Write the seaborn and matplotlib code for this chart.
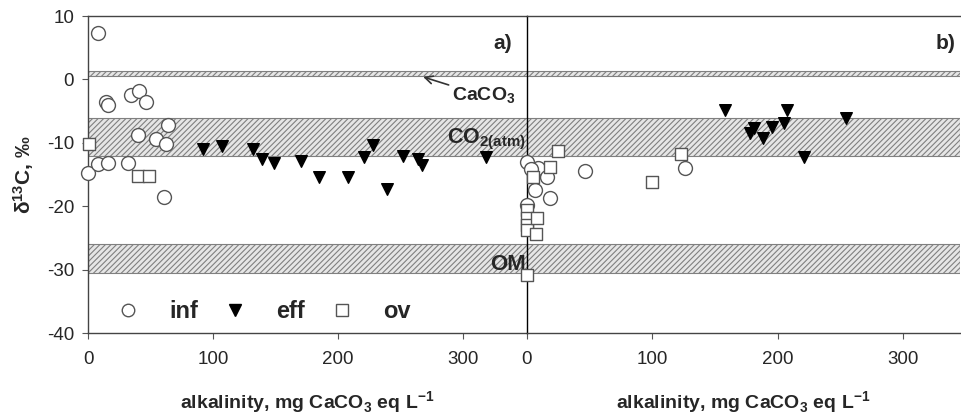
import pandas as pd
import matplotlib.pyplot as plt
import seaborn as sns
from matplotlib.lines import Line2D

# valores: panel a)
a_inf_x = [8, 14, 16, 34, 41, 46, 40, 64, 54, 62, 0, 8, 16, 32, 61]
a_inf_y = [7.3, -3.6, -4.1, -2.5, -1.8, -3.6, -8.7, -7.2, -9.4, -10.2, -14.7, -13.4, -13.1, -13.1, -18.6]
a_eff_x = [92, 107, 132, 139, 149, 170, 185, 208, 221, 228, 239, 252, 264, 267, 318]
a_eff_y = [-11.0, -10.5, -10.9, -12.5, -13.2, -12.8, -15.4, -15.4, -12.2, -10.4, -17.2, -12.0, -12.5, -13.5, -12.2]
a_ov_x = [1, 40, 49]
a_ov_y = [-10.2, -15.2, -15.2]

# panel b)
b_inf_x = [0, 9, 16, 6, 18, 46, 0, 3, 126]
b_inf_y = [-13.0, -14.0, -15.4, -17.5, -18.7, -14.5, -19.8, -14.2, -13.9]
b_eff_x = [158, 207, 254, 205, 195, 181, 178, 188, 221]
b_eff_y = [-4.8, -4.8, -6.0, -6.8, -7.5, -7.6, -8.4, -9.3, -12.2]
b_ov_x = [0, 0, 0, 0, 8, 7, 18, 5, 25, 0, 100, 123]
b_ov_y = [-20.6, -21.8, -23.0, -23.8, -21.8, -24.3, -13.8, -15.4, -11.3, -30.9, -16.2, -11.8]

# bandas de referencia (min, max)
bandas = {'CaCO3': (0.6, 1.4), 'CO2': (-12.0, -6.0), 'OM': (-30.5, -26.0)}

def armar(panel, xs, ys, tipo):
    return pd.DataFrame({'panel': panel, 'alk': xs, 'd13C': ys, 'tipo': tipo})

df = pd.concat([
    armar('a', a_inf_x, a_inf_y, 'inf'), armar('a', a_eff_x, a_eff_y, 'eff'), armar('a', a_ov_x, a_ov_y, 'ov'),
    armar('b', b_inf_x, b_inf_y, 'inf'), armar('b', b_eff_x, b_eff_y, 'eff'), armar('b', b_ov_x, b_ov_y, 'ov'),
], ignore_index=True)

sns.set_style('ticks')
plt.rcParams['font.family'] = ['Liberation Sans', 'DejaVu Sans']
plt.rcParams['mathtext.fontset'] = 'custom'
plt.rcParams['mathtext.rm'] = 'Liberation Sans'
plt.rcParams['mathtext.bf'] = 'Liberation Sans:bold'
plt.rcParams['axes.unicode_minus'] = False
plt.rcParams['hatch.color'] = '#808080'
plt.rcParams['hatch.linewidth'] = 0.8

fig = plt.figure(figsize=(9.62, 4.17), dpi=100)
ax1 = fig.add_axes([0.0915, 0.2014, 0.4563, 0.760])
ax2 = fig.add_axes([0.5478, 0.2014, 0.4500, 0.760])

estilos = {
    'inf': dict(marker='o', color='white', edgecolor='#555555', s=100),
    'eff': dict(marker='v', color='black', edgecolor='black', s=70),
    'ov': dict(marker='s', color='white', edgecolor='#555555', s=75),
}

for ax, panel, xmax in [(ax1, 'a', 351), (ax2, 'b', 345)]:
    for lo, hi in bandas.values():
        ax.axhspan(lo, hi, facecolor='#e6e6e6', edgecolor='#808080', hatch='//////', lw=0.8, zorder=0)
    for tipo in ['inf', 'eff', 'ov']:
        sub = df[(df.panel == panel) & (df.tipo == tipo)]
        sns.scatterplot(data=sub, x='alk', y='d13C', ax=ax, linewidth=1.0, clip_on=False, zorder=3, **estilos[tipo])
    ax.set_xlim(0, xmax)
    ax.set_ylim(-40, 10)
    ax.set_xticks([0, 100, 200, 300])
    ax.tick_params(axis='both', labelsize=13.5, length=4, color='#555555')
    ax.tick_params(axis='x', pad=9)
    ax.set_xlabel('alkalinity, mg CaCO$_\\mathbf{3}$ eq L$^\\mathbf{-1}$', fontsize=14, fontweight='bold', labelpad=15)
    ax.set_ylabel('')
    for sp in ax.spines.values():
        sp.set_color('#444444')
        sp.set_linewidth(1.0)

ax1.spines['right'].set_visible(False)
ax2.spines['right'].set_visible(False)
ax2.spines['left'].set_color('black')
ax2.tick_params(axis='y', left=False, labelleft=False)
ax1.set_yticks([10, 0, -10, -20, -30, -40])
ax1.tick_params(axis='y', pad=6)
ax1.set_ylabel('$\\mathbf{\\delta^{13}C}$, ‰', fontsize=15, fontweight='bold', labelpad=8)

ax1.text(0.965, 0.915, 'a)', transform=ax1.transAxes, ha='right', va='center', fontsize=15, fontweight='bold')
ax2.text(0.99, 0.915, 'b)', transform=ax2.transAxes, ha='right', va='center', fontsize=15, fontweight='bold')

ax1.annotate('CaCO$_\\mathbf{3}$', xy=(268, 0.4), xytext=(291, -2.6), fontsize=14, fontweight='bold', va='center',
             arrowprops=dict(arrowstyle='->', color='#333333', lw=1.2, shrinkA=0, shrinkB=0))
ax1.text(350, -9.5, '$\\mathbf{CO_{2(atm)}}$', ha='right', va='center', fontsize=15.5)
ax1.text(350, -29.2, 'OM', ha='right', va='center', fontsize=16, fontweight='bold')

handles = [Line2D([], [], ls='', marker='o', mfc='white', mec='#555555', ms=9),
           Line2D([], [], ls='', marker='v', mfc='black', mec='black', ms=8),
           Line2D([], [], ls='', marker='s', mfc='white', mec='#555555', ms=8)]
leg = ax1.legend(handles, ['inf', 'eff', 'ov'], loc='lower left', ncol=3, frameon=False,
                 prop={'weight': 'bold', 'size': 17}, handletextpad=0.75, columnspacing=0.55,
                 bbox_to_anchor=(-0.01, -0.035))

plt.savefig('out.png', dpi=100)
